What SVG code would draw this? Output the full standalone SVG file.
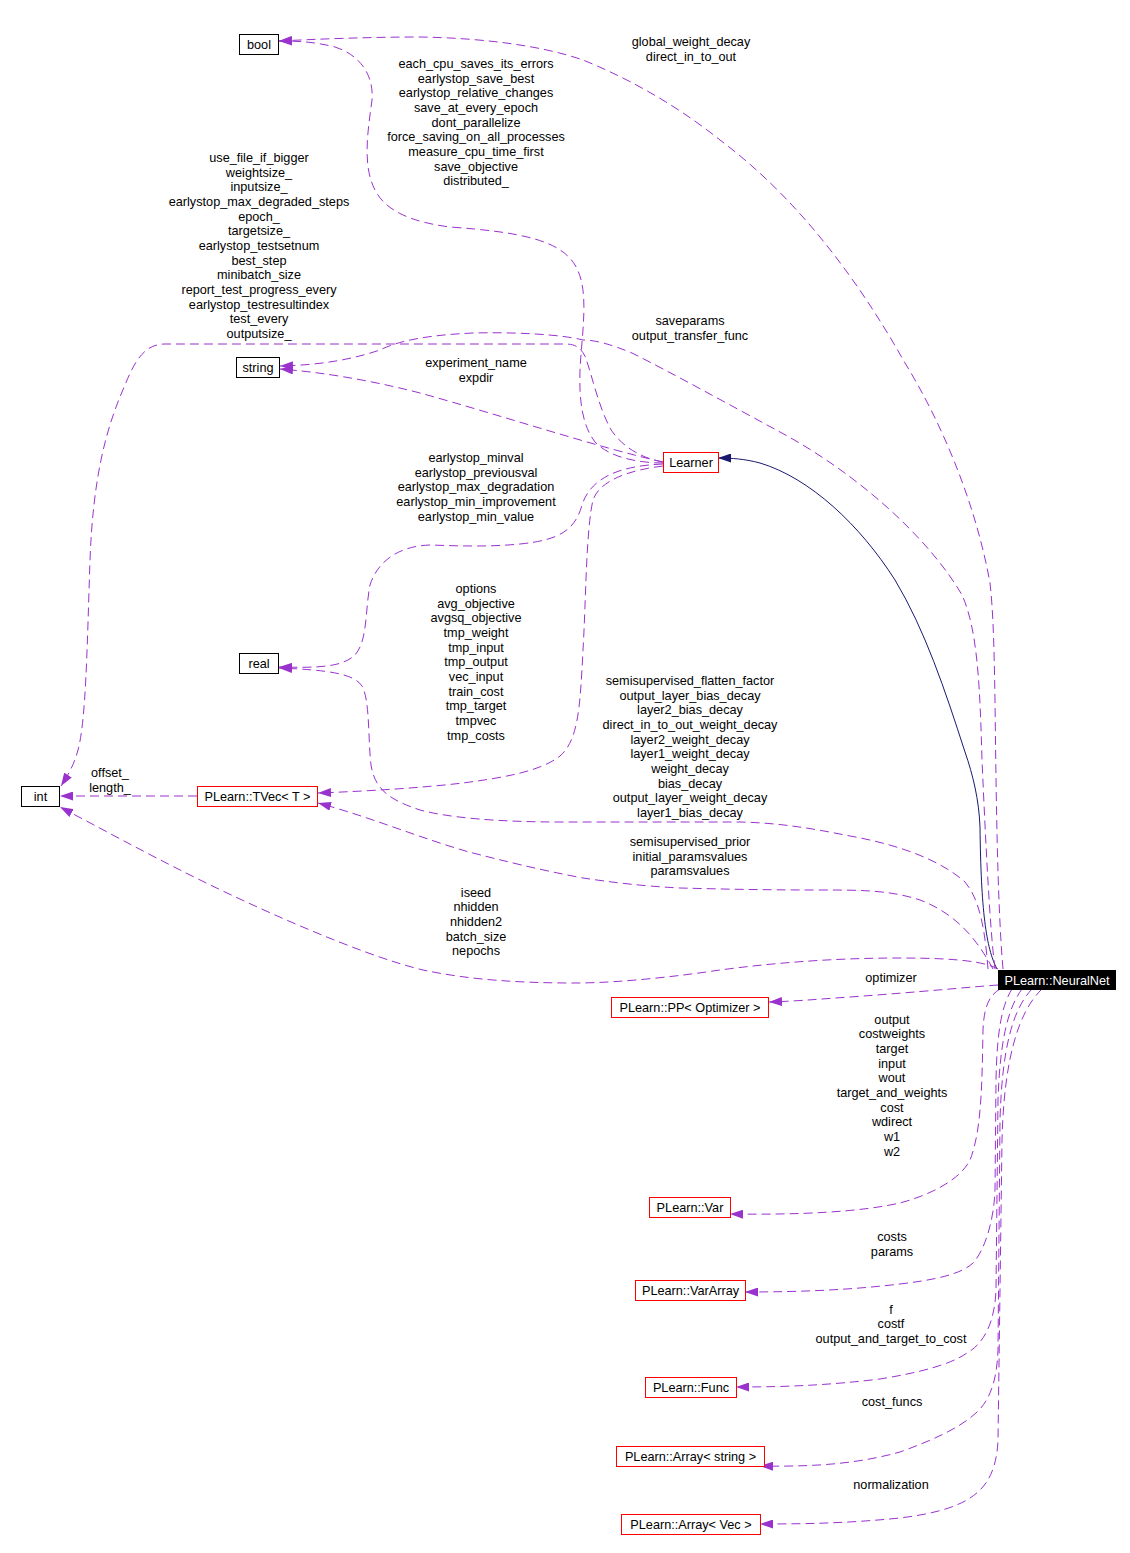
<svg xmlns="http://www.w3.org/2000/svg" width="1130" height="1553" viewBox="0 0 1130 1553">
<style>
text{font-family:"Liberation Sans",Arial,Helvetica,sans-serif;font-size:12.7px;fill:#000;text-anchor:middle}
.e{fill:none;stroke:#9a32cd;stroke-width:1;stroke-dasharray:9,5;marker-end:url(#pa)}
.inh{fill:none;stroke:#191970;stroke-width:1;marker-end:url(#na)}
.nb{fill:#fff;stroke:#000;stroke-width:1}
.nr{fill:#fff;stroke:#ff0000;stroke-width:1}
.nk{fill:#000;stroke:#000;stroke-width:1}
.wt{fill:#fff}
</style>
<defs>
<marker id="pa" markerUnits="userSpaceOnUse" markerWidth="13" markerHeight="9" viewBox="0 0 13 9" refX="13" refY="4.5" orient="auto"><path d="M0,0 L13,4.5 L0,9 z" fill="#9a32cd"/></marker>
<marker id="na" markerUnits="userSpaceOnUse" markerWidth="13" markerHeight="9" viewBox="0 0 13 9" refX="13" refY="4.5" orient="auto"><path d="M0,0 L13,4.5 L0,9 z" fill="#191970"/></marker>
</defs>
<rect width="1130" height="1553" fill="#fff"/>
<g id="connectors">
 <g id="e-nn-learner"><path class="inh" d="M997,969 C986,948 981,910 980,827 C979,800 973,775 965,752 C945,690 925,630 895,580 C860,525 810,478 760,463 C745,459 732,458 718,458"/></g>
 <g id="e-nn-bool"><path class="e" d="M1003,969 C997,900 996,780 995,700 C994,640 993,610 990,583 C975,500 940,420 905,363 C860,283 800,200 720,140 C670,100 620,75 583,60 C540,45 480,38 420,37 C370,37 320,39 279,41"/>
  <text><tspan x="691" y="46">global_weight_decay</tspan><tspan x="691" y="61">direct_in_to_out</tspan></text></g>
 <g id="e-learner-bool"><path class="e" d="M663,463 C640,463 610,458 595,442 C582,425 579,400 580,370 C582,330 590,290 575,265 C560,240 520,232 450,227 C410,222 385,210 375,190 C362,165 368,130 372,100 C374,75 360,55 335,47 C315,42 300,41 279,41"/>
  <text><tspan x="476" y="68">each_cpu_saves_its_errors</tspan><tspan x="476" y="82.7">earlystop_save_best</tspan><tspan x="476" y="97.3">earlystop_relative_changes</tspan><tspan x="476" y="112">save_at_every_epoch</tspan><tspan x="476" y="126.7">dont_parallelize</tspan><tspan x="476" y="141.3">force_saving_on_all_processes</tspan><tspan x="476" y="156">measure_cpu_time_first</tspan><tspan x="476" y="170.7">save_objective</tspan><tspan x="476" y="185.4">distributed_</tspan></text></g>
 <g id="e-learner-int"><path class="e" d="M663,462 C640,458 620,445 610,428 C598,405 592,375 585,356 C580,347 575,344 565,344 L165,344 C145,344 135,360 125,385 C105,430 93,480 90,560 C87,650 86,720 78,750 C74,765 68,775 61,786"/>
  <text><tspan x="259" y="162">use_file_if_bigger</tspan><tspan x="259" y="176.7">weightsize_</tspan><tspan x="259" y="191.3">inputsize_</tspan><tspan x="259" y="206">earlystop_max_degraded_steps</tspan><tspan x="259" y="220.7">epoch_</tspan><tspan x="259" y="235.3">targetsize_</tspan><tspan x="259" y="250">earlystop_testsetnum</tspan><tspan x="259" y="264.7">best_step</tspan><tspan x="259" y="279.3">minibatch_size</tspan><tspan x="259" y="294">report_test_progress_every</tspan><tspan x="259" y="308.7">earlystop_testresultindex</tspan><tspan x="259" y="323.3">test_every</tspan><tspan x="259" y="338">outputsize_</tspan></text></g>
 <g id="e-nn-string"><path class="e" d="M995,969 C990,930 986,850 982,760 C980,690 978,630 962,595 C930,540 860,475 780,432 C730,405 670,372 632,353 C610,344 595,340 583,340 C560,334 510,332 473,333 C430,335 400,340 380,350 C350,360 320,365 280,366"/>
  <text><tspan x="690" y="325">saveparams</tspan><tspan x="690" y="339.7">output_transfer_func</tspan></text></g>
 <g id="e-learner-string"><path class="e" d="M663,462 C600,448 500,415 420,393 C370,380 320,372 280,369"/>
  <text><tspan x="476" y="367">experiment_name</tspan><tspan x="476" y="381.7">expdir</tspan></text></g>
 <g id="e-learner-real"><path class="e" d="M663,464 C615,466 590,480 582,505 C575,530 560,540 520,544 C490,547 460,546 430,545 C400,546 378,560 370,585 C365,610 368,640 355,655 C342,667 320,668 279,667"/>
  <text><tspan x="476" y="462">earlystop_minval</tspan><tspan x="476" y="476.7">earlystop_previousval</tspan><tspan x="476" y="491.3">earlystop_max_degradation</tspan><tspan x="476" y="506">earlystop_min_improvement</tspan><tspan x="476" y="520.7">earlystop_min_value</tspan></text></g>
 <g id="e-learner-tvec"><path class="e" d="M663,466 C630,470 600,480 593,500 C586,530 586,600 583,650 C580,710 578,740 560,756 C540,772 500,778 463,783 C420,788 370,791 318,793"/>
  <text><tspan x="476" y="593">options</tspan><tspan x="476" y="607.7">avg_objective</tspan><tspan x="476" y="622.3">avgsq_objective</tspan><tspan x="476" y="637">tmp_weight</tspan><tspan x="476" y="651.7">tmp_input</tspan><tspan x="476" y="666.3">tmp_output</tspan><tspan x="476" y="681">vec_input</tspan><tspan x="476" y="695.7">train_cost</tspan><tspan x="476" y="710.3">tmp_target</tspan><tspan x="476" y="725">tmpvec</tspan><tspan x="476" y="739.7">tmp_costs</tspan></text></g>
 <g id="e-nn-real"><path class="e" d="M988,969 C985,930 980,900 965,882 C940,860 900,845 850,836 C810,828 780,823 740,822 L560,822 C500,822 450,818 420,810 C390,800 375,790 371,765 C368,740 370,700 362,686 C354,674 330,670 279,668"/>
  <text><tspan x="690" y="685">semisupervised_flatten_factor</tspan><tspan x="690" y="699.7">output_layer_bias_decay</tspan><tspan x="690" y="714.3">layer2_bias_decay</tspan><tspan x="690" y="729">direct_in_to_out_weight_decay</tspan><tspan x="690" y="743.7">layer2_weight_decay</tspan><tspan x="690" y="758.3">layer1_weight_decay</tspan><tspan x="690" y="773">weight_decay</tspan><tspan x="690" y="787.7">bias_decay</tspan><tspan x="690" y="802.3">output_layer_weight_decay</tspan><tspan x="690" y="817">layer1_bias_decay</tspan></text></g>
 <g id="e-nn-tvec"><path class="e" d="M993,969 C980,945 960,915 920,900 C890,890 860,890 820,890 C760,890 720,889 680,888 C640,886 610,882 583,878 C540,870 500,860 469,852 C420,838 370,817 318,803"/>
  <text><tspan x="690" y="846">semisupervised_prior</tspan><tspan x="690" y="860.7">initial_paramsvalues</tspan><tspan x="690" y="875.3">paramsvalues</tspan></text></g>
 <g id="e-tvec-int"><path class="e" d="M197,796 L60,796"/>
  <text><tspan x="110" y="777">offset_</tspan><tspan x="110" y="791.7">length_</tspan></text></g>
 <g id="e-nn-int"><path class="e" d="M998,969 C985,962 960,958 900,958 C840,958 780,962 720,970 C680,976 620,983 576,983 C520,983 470,980 423,970 C360,955 250,905 190,875 C140,850 100,828 60,807"/>
  <text><tspan x="476" y="896.5">iseed</tspan><tspan x="476" y="911.2">nhidden</tspan><tspan x="476" y="925.8">nhidden2</tspan><tspan x="476" y="940.5">batch_size</tspan><tspan x="476" y="955.2">nepochs</tspan></text></g>
 <g id="e-nn-pp"><path class="e" d="M998,985 C970,987 920,992 850,997 C820,999 800,1001 769,1002"/>
  <text><tspan x="891" y="982">optimizer</tspan></text></g>
 <g id="e-nn-var"><path class="e" d="M1000,989 C990,995 984,1005 983,1030 C982,1080 982,1130 970,1160 C960,1180 930,1195 900,1203 C860,1212 800,1215 730,1214"/>
  <text><tspan x="892" y="1023.5">output</tspan><tspan x="892" y="1038.2">costweights</tspan><tspan x="892" y="1052.8">target</tspan><tspan x="892" y="1067.5">input</tspan><tspan x="892" y="1082.2">wout</tspan><tspan x="892" y="1096.8">target_and_weights</tspan><tspan x="892" y="1111.5">cost</tspan><tspan x="892" y="1126.2">wdirect</tspan><tspan x="892" y="1140.8">w1</tspan><tspan x="892" y="1155.5">w2</tspan></text></g>
 <g id="e-nn-vararray"><path class="e" d="M1012,989 C1002,1005 997,1030 996,1080 L995,1190 C994,1220 985,1250 973,1263 C960,1275 933,1280 900,1284 C850,1290 800,1292 745,1292"/>
  <text><tspan x="892" y="1241">costs</tspan><tspan x="892" y="1255.7">params</tspan></text></g>
 <g id="e-nn-func"><path class="e" d="M1022,989 C1008,1008 1000,1040 998,1100 L996,1290 C995,1320 985,1343 967,1353 C950,1365 917,1373 880,1379 C830,1385 790,1387 736,1387"/>
  <text><tspan x="891" y="1313.5">f</tspan><tspan x="891" y="1328.2">costf</tspan><tspan x="891" y="1342.8">output_and_target_to_cost</tspan></text></g>
 <g id="e-nn-arrstring"><path class="e" d="M1032,989 C1012,1010 1002,1050 1000,1120 L998,1350 C997,1380 990,1400 977,1412 C960,1428 933,1440 900,1452 C860,1463 820,1467 760,1466"/>
  <text><tspan x="892" y="1405.5">cost_funcs</tspan></text></g>
 <g id="e-nn-arrvec"><path class="e" d="M1042,989 C1018,1012 1004,1060 1002,1140 L998,1440 C997,1465 990,1480 980,1490 C965,1505 940,1513 900,1518 C850,1523 810,1524 760,1524"/>
  <text><tspan x="891" y="1488.5">normalization</tspan></text></g>
</g>
<g id="n-bool"><rect class="nb" x="239.5" y="34.5" width="39" height="20"/><text x="259" y="49">bool</text></g>
<g id="n-string"><rect class="nb" x="236.5" y="357.5" width="43" height="20"/><text x="258" y="372">string</text></g>
<g id="n-real"><rect class="nb" x="239.5" y="653.5" width="39" height="20"/><text x="259" y="668">real</text></g>
<g id="n-int"><rect class="nb" x="21.5" y="786.5" width="38" height="20"/><text x="40.5" y="801">int</text></g>
<g id="n-tvec"><rect class="nr" x="197.5" y="786.5" width="120" height="20"/><text x="257.5" y="801">PLearn::TVec&lt; T &gt;</text></g>
<g id="n-learner"><rect class="nr" x="663.5" y="452.5" width="55" height="20"/><text x="691" y="467">Learner</text></g>
<g id="n-neuralnet"><rect class="nk" x="998.5" y="970.5" width="117" height="19"/><text class="wt" x="1057" y="984.5">PLearn::NeuralNet</text></g>
<g id="n-pp"><rect class="nr" x="611.5" y="997.5" width="157" height="20"/><text x="690" y="1012">PLearn::PP&lt; Optimizer &gt;</text></g>
<g id="n-var"><rect class="nr" x="649.5" y="1197.5" width="81" height="20"/><text x="690" y="1212">PLearn::Var</text></g>
<g id="n-vararray"><rect class="nr" x="635.5" y="1280.5" width="110" height="20"/><text x="690.5" y="1295">PLearn::VarArray</text></g>
<g id="n-func"><rect class="nr" x="645.5" y="1377.5" width="91" height="20"/><text x="691" y="1392">PLearn::Func</text></g>
<g id="n-arrstring"><rect class="nr" x="616.5" y="1446.5" width="148" height="20"/><text x="690.5" y="1461">PLearn::Array&lt; string &gt;</text></g>
<g id="n-arrvec"><rect class="nr" x="621.5" y="1514.5" width="139" height="20"/><text x="691" y="1529">PLearn::Array&lt; Vec &gt;</text></g>
</svg>
